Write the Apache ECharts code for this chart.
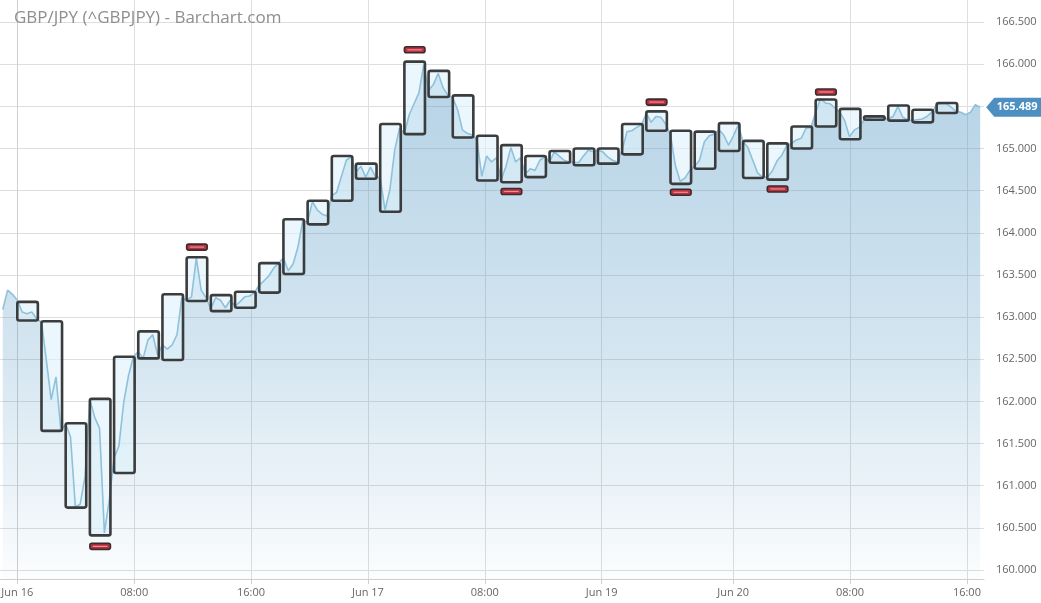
<!DOCTYPE html>
<html>
<head>
<meta charset="utf-8">
<title>GBP/JPY</title>
<script src="https://cdn.jsdelivr.net/npm/echarts@6/dist/echarts.min.js"></script>
<style>
  html, body { margin: 0; padding: 0; background: #fff; }
  #chart { width: 1041px; height: 603px; }
</style>
</head>
<body>
<div id="chart"></div>
<script>
// x axis runs in trading hours from Jun 16 00:00 (weekend removed)
const tickHours = [0, 8, 16, 24, 32, 40, 49, 57, 65];
const tickLabels = ["Jun 16", "08:00", "16:00", "Jun 17", "08:00", "Jun 19", "Jun 20", "08:00", "16:00"];
const priceTicks = [160, 160.5, 161, 161.5, 162, 162.5, 163, 163.5, 164, 164.5, 165, 165.5, 166, 166.5];

// one box per period, 5 price samples per period
const boxHours = 1.656;
const samplesPerBox = 5;
const samplesBeforeFirstBox = 3;

// sampled quotes
const prices = [
  163.09, 163.32, 163.27,
  163.20, 163.06, 163.04, 163.06, 162.98,
  162.94, 162.49, 162.02, 162.29, 161.66,
  161.73, 161.58, 160.75, 160.78, 161.11,
  162.02, 161.81, 161.68, 160.44, 160.83,
  161.33, 161.47, 161.99, 162.31, 162.53,
  162.59, 162.51, 162.73, 162.79, 162.55,
  162.67, 162.62, 162.67, 162.79, 163.23,
  163.20, 163.24, 163.70, 163.32, 163.23,
  163.10, 163.23, 163.20, 163.11, 163.20,
  163.13, 163.18, 163.24, 163.25, 163.29,
  163.38, 163.43, 163.49, 163.58, 163.64,
  163.70, 163.55, 163.63, 163.83, 164.14,
  164.13, 164.37, 164.27, 164.22, 164.20,
  164.44, 164.48, 164.67, 164.86, 164.90,
  164.72, 164.79, 164.66, 164.78, 164.67,
  164.65, 164.27, 164.51, 164.98, 165.24,
  165.18, 165.40, 165.53, 165.66, 165.99,
  165.69, 165.76, 165.89, 165.72, 165.63,
  165.60, 165.46, 165.22, 165.18, 165.16,
  165.10, 164.67, 164.91, 164.84, 164.89,
  164.63, 164.79, 165.01, 164.84, 164.89,
  164.70, 164.76, 164.74, 164.86, 164.90,
  164.84, 164.96, 164.91, 164.86, 164.84,
  164.84, 164.83, 164.91, 164.98, 164.96,
  164.98, 164.96, 164.90, 164.86, 164.84,
  164.98, 165.20, 165.21, 165.25, 165.28,
  165.42, 165.31, 165.38, 165.37, 165.29,
  165.16, 164.80, 164.61, 164.65, 164.74,
  164.79, 164.86, 165.08, 165.15, 165.17,
  165.22, 165.16, 165.04, 165.15, 165.28,
  165.08, 165.01, 164.86, 164.71, 164.66,
  164.66, 164.73, 164.85, 164.92, 165.03,
  165.06, 165.10, 165.12, 165.24, 165.25,
  165.43, 165.59, 165.54, 165.53, 165.48,
  165.43, 165.33, 165.14, 165.22, 165.25,
  165.34, 165.36, 165.37, 165.37, 165.36,
  165.35, 165.38, 165.50, 165.37, 165.34,
  165.33, 165.34, 165.35, 165.38, 165.43,
  165.52, 165.53, 165.53, 165.49, 165.44,
  165.43, 165.40, 165.43, 165.52, 165.489
];

// period boxes
const boxHigh = [163.18, 162.95, 161.74, 162.03, 162.53, 162.83, 163.27, 163.71, 163.26, 163.30,
  163.64, 164.16, 164.38, 164.91, 164.82, 165.29, 166.03, 165.92, 165.63, 165.15,
  165.04, 164.91, 164.97, 165.00, 165.00, 165.29, 165.44, 165.21, 165.20, 165.30,
  165.09, 165.06, 165.26, 165.58, 165.47, 165.38, 165.51, 165.46, 165.54];
const boxLow = [162.96, 161.65, 160.74, 160.41, 161.15, 162.51, 162.49, 163.19, 163.07, 163.11,
  163.29, 163.51, 164.10, 164.38, 164.64, 164.25, 165.17, 165.61, 165.13, 164.62,
  164.60, 164.66, 164.83, 164.80, 164.82, 164.93, 165.21, 164.58, 164.76, 164.97,
  164.65, 164.63, 165.00, 165.26, 165.11, 165.34, 165.33, 165.31, 165.42];

// extreme highs / lows outside the boxes
const extremeBox = [3, 7, 16, 20, 26, 27, 31, 33];
const extremeValue = [160.28, 163.83, 166.17, 164.49, 165.55, 164.48, 164.52, 165.67];

const lastPrice = 165.489;

const step = boxHours / samplesPerBox;
const lineData = prices.map((p, i) => [(i - samplesBeforeFirstBox) * step, p]);
const boxData = boxHigh.map((h, i) => [i * boxHours, h, boxLow[i]]);
const extremeData = extremeBox.map((b, i) => [b * boxHours, extremeValue[i]]);

const boxWidth = boxHours * 0.85;

function boxShape(api) {
  const t = api.value(0);
  const a = api.coord([t, api.value(1)]);
  const b = api.coord([t + boxWidth, api.value(2)]);
  return { x: a[0], y: a[1], width: b[0] - a[0], height: Math.max(b[1] - a[1], 3), r: 2 };
}

const chart = echarts.init(document.getElementById("chart"));
chart.setOption({
  animation: false,
  title: {
    text: "GBP/JPY (^GBPJPY) - Barchart.com",
    left: 14,
    top: 10,
    padding: 0,
    textStyle: { color: "#8e8e8e", fontSize: 17, fontWeight: "normal", fontFamily: "Open Sans" }
  },
  grid: { left: 0, right: 57, top: 0, bottom: 24, outerBoundsMode: "none", containLabel: false },
  xAxis: {
    type: "value",
    min: -1.184,
    max: 66.17,
    axisLine: { lineStyle: { color: "#cfcfcf" } },
    axisTick: { customValues: tickHours, length: 5, lineStyle: { color: "#cfcfcf" } },
    axisLabel: {
      customValues: tickHours,
      formatter: (v) => tickLabels[tickHours.indexOf(v)],
      color: "#666",
      fontSize: 11,
      fontFamily: "Open Sans",
      margin: 8
    },
    splitLine: { show: true, lineStyle: { color: "#dedede" } }
  },
  yAxis: {
    type: "value",
    position: "right",
    min: 159.893,
    max: 166.761,
    axisLine: { show: true, lineStyle: { color: "#cfcfcf" } },
    axisTick: { show: false, customValues: priceTicks },
    axisLabel: {
      customValues: priceTicks,
      formatter: (v) => v.toFixed(3),
      color: "#666",
      fontSize: 11,
      fontFamily: "Open Sans",
      margin: 12
    },
    splitLine: { show: true, lineStyle: { color: "#dedede" } }
  },
  series: [
    {
      name: "area",
      type: "line",
      data: lineData,
      showSymbol: false,
      silent: true,
      z: 1,
      lineStyle: { width: 0 },
      areaStyle: {
        color: new echarts.graphic.LinearGradient(0, 0, 0, 1, [
          { offset: 0, color: "rgba(77,148,194,0.6)" },
          { offset: 0.2, color: "rgba(77,148,194,0.51)" },
          { offset: 0.58, color: "rgba(77,148,194,0.33)" },
          { offset: 0.81, color: "rgba(77,148,194,0.17)" },
          { offset: 1, color: "rgba(77,148,194,0.03)" }
        ])
      }
    },
    {
      name: "boxFill",
      type: "custom",
      data: boxData,
      z: 2,
      renderItem: (params, api) => ({
        type: "rect",
        shape: boxShape(api),
        style: { fill: "rgba(222,242,250,0.62)", stroke: null }
      })
    },
    {
      name: "GBPJPY",
      type: "line",
      data: lineData,
      showSymbol: false,
      z: 3,
      lineStyle: { color: "#8ec1dc", width: 1.6 },
      markPoint: {
        symbol: "path://M0,10 L8,0 L56,0 L56,20 L8,20 Z",
        symbolSize: [56, 19],
        symbolKeepAspect: false,
        symbolOffset: [34, 0],
        itemStyle: { color: "#4d8fc0" },
        label: {
          show: true,
          color: "#fff",
          fontWeight: "bold",
          fontSize: 11,
          fontFamily: "Open Sans",
          offset: [3, 0],
          formatter: (p) => p.value.toFixed(3)
        },
        data: [{ coord: lineData[lineData.length - 1], value: lastPrice }]
      }
    },
    {
      name: "boxEdge",
      type: "custom",
      data: boxData,
      z: 4,
      renderItem: (params, api) => ({
        type: "rect",
        shape: boxShape(api),
        style: { fill: null, stroke: "#3a3c3d", lineWidth: 2.6 }
      })
    },
    {
      name: "extremes",
      type: "custom",
      data: extremeData,
      z: 5,
      renderItem: (params, api) => {
        const a = api.coord([api.value(0), api.value(1)]);
        const b = api.coord([api.value(0) + boxWidth, api.value(1)]);
        return {
          type: "group",
          children: [
            {
              type: "rect",
              shape: { x: a[0], y: a[1] - 3, width: b[0] - a[0], height: 6, r: 2 },
              style: { fill: "#b8323f", stroke: "#3c2a2c", lineWidth: 1.6 }
            },
            {
              type: "line",
              shape: { x1: a[0] + 3, y1: a[1], x2: b[0] - 3, y2: a[1] },
              style: { stroke: "#f08a96", lineWidth: 1.2 }
            }
          ]
        };
      }
    }
  ]
});
</script>
</body>
</html>
